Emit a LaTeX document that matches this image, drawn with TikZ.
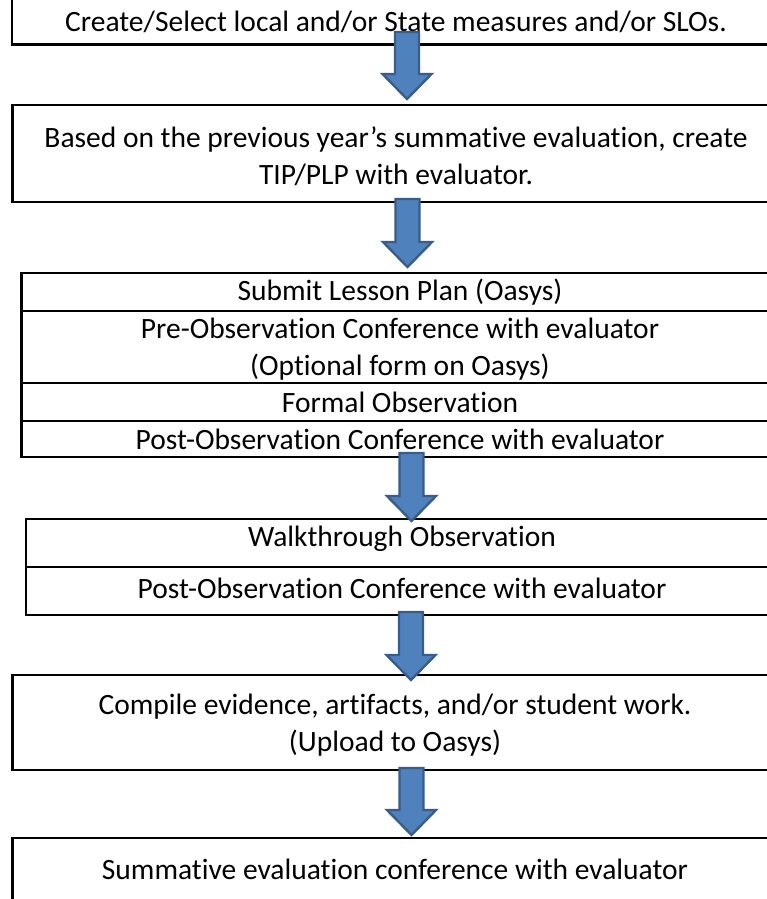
\documentclass[tikz,border=0pt]{standalone}
\usepackage{fontspec}
\setmainfont{Carlito}[Ligatures={NoCommon}]
\usetikzlibrary{calc}
\definecolor{arfill}{HTML}{4F81BD}
\definecolor{arline}{HTML}{385D8A}
\tikzset{
  frame/.style={draw=black, line width=2.8pt, rectangle, inner sep=0pt, outer sep=0pt},
  label/.style={inner sep=0pt, align=center, font=\fontsize{29.5}{37}\selectfont},
  blockarrow/.style={fill=arfill, draw=arline, line width=2.4pt, line join=miter},
}
\newcommand\blockarr[2]{%
  \path[blockarrow] let \p1=(#1), \p2=(#2) in
    (\x1-12pt,\y1) -- (\x1+12pt,\y1) -- (\x1+12pt,\y2+25pt) -- (\x1+24.5pt,\y2+25pt)
    -- (\x1,\y2) -- (\x1-24.5pt,\y2+25pt) -- (\x1-12pt,\y2+25pt) -- cycle;}
\begin{document}
\begin{tikzpicture}[x=1pt, y=-1pt]
\useasboundingbox (0,0) rectangle (767,899);
\clip (0,0) rectangle (767,899);
\fill[white] (0,0) rectangle (767,899);
% boxes
\node[frame, minimum width=768pt, minimum height=64.5pt] (b1) at (396,12.25) {};
\node[frame, minimum width=767.5pt, minimum height=97pt] (b2) at (396.25,153.5) {};
\node[frame, minimum width=756.5pt, minimum height=38pt] (b3r1) at (399.75,292) {};
\node[frame, minimum width=756.5pt, minimum height=72pt] (b3r2) at (399.75,347) {};
\node[frame, minimum width=756.5pt, minimum height=38pt] (b3r3) at (399.75,402) {};
\node[frame, minimum width=756.5pt, minimum height=36pt] (b3r4) at (399.75,439) {};
\node[frame, minimum width=752pt, minimum height=48pt] (b4r1) at (402,543) {};
\node[frame, minimum width=752pt, minimum height=48pt] (b4r2) at (402,591) {};
\node[frame, minimum width=767.5pt, minimum height=95pt] (b5) at (396.25,722.5) {};
\node[frame, minimum width=767.5pt, minimum height=82pt] (b6) at (396.25,879) {};
% texts
\node[label] (t1) at (396,22) {Create/Select local and/or State measures and/or SLOs.};
\node[label] (t2) at (396,156) {Based on the previous year’s summative evaluation, create\\TIP/PLP with evaluator.};
\node[label] (t3a) at (400,292) {Submit Lesson Plan (Oasys)};
\node[label] (t3b) at (400,349) {Pre-Observation Conference with evaluator\\(Optional form on Oasys)};
\node[label] (t3c) at (400,402) {Formal Observation};
\node[label] (t3d) at (400,439) {Post-Observation Conference with evaluator};
\node[label] (t4a) at (402,539) {Walkthrough Observation};
\node[label] (t4b) at (402,588) {Post-Observation Conference with evaluator};
\node[label] (t5) at (395,725) {Compile evidence, artifacts, and/or student work.\\(Upload to Oasys)};
\node[label] (t6) at (395,869) {Summative evaluation conference with evaluator};
% arrows
\coordinate (a1s) at (407,32);    \coordinate (a1e) at (407,99);
\coordinate (a2s) at (407.5,199); \coordinate (a2e) at (407.5,267);
\coordinate (a3s) at (411.5,453); \coordinate (a3e) at (411.5,521);
\coordinate (a4s) at (411,612);   \coordinate (a4e) at (411,680);
\coordinate (a5s) at (411.5,768); \coordinate (a5e) at (411.5,835);
\blockarr{a1s}{a1e}
\blockarr{a2s}{a2e}
\blockarr{a3s}{a3e}
\blockarr{a4s}{a4e}
\blockarr{a5s}{a5e}
\end{tikzpicture}
\end{document}
